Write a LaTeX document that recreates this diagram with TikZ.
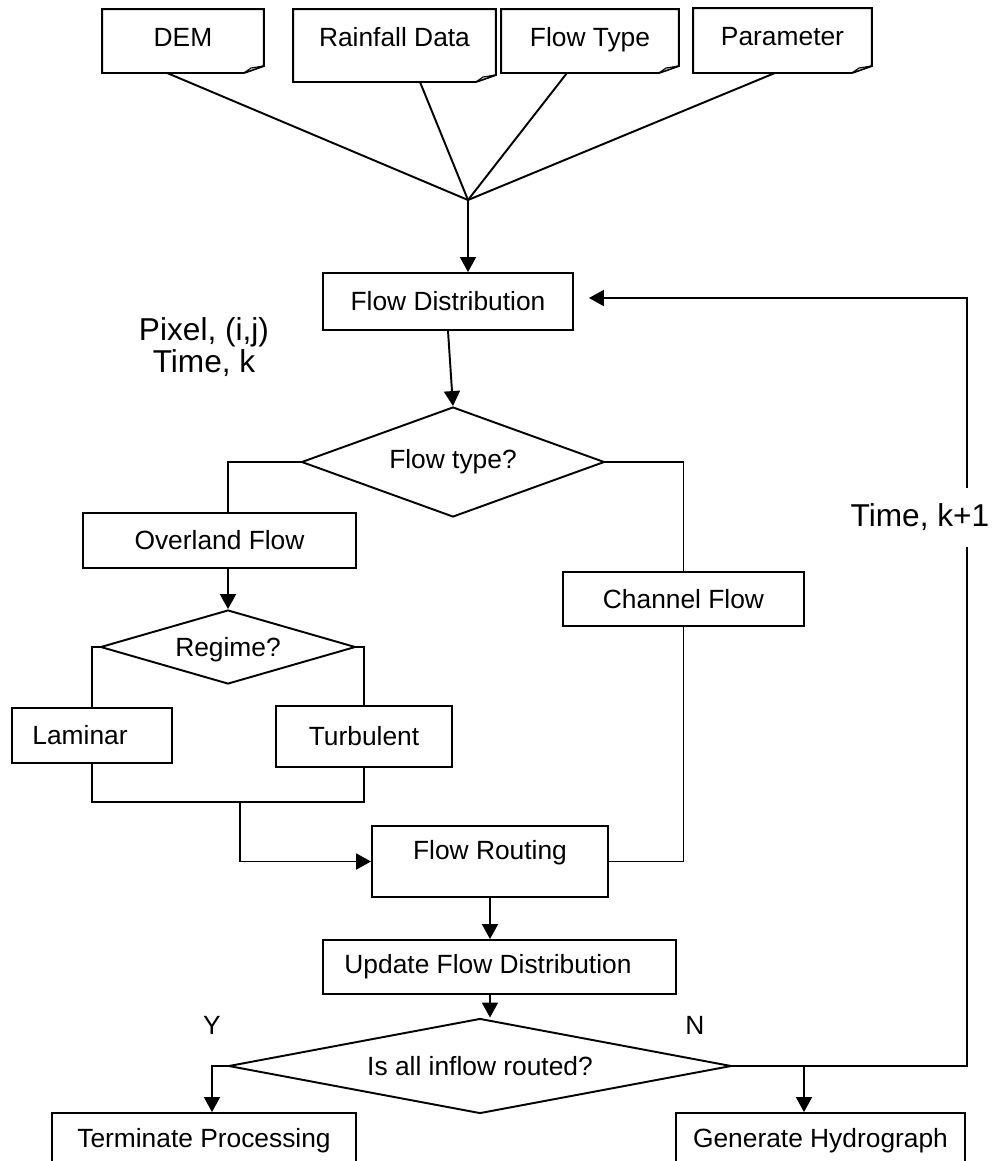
\documentclass[tikz,border=0pt]{standalone}
\usepackage{fontspec}
\setmainfont{Liberation Sans}
\usetikzlibrary{shapes.geometric,arrows.meta}

% outline of an input document, bottom right corner folded
\newcommand{\docfold}[1]{%
  \draw (#1.north west) -- (#1.north east) -- ([yshift=0.14cm]#1.south east)
    -- ([xshift=-0.4cm]#1.south east) -- (#1.south west) -- cycle;
  \filldraw[fill=gray!45, line join=bevel, line width=0.6pt] ([xshift=-0.4cm]#1.south east)
    -- ([xshift=-0.26cm,yshift=0.1cm]#1.south east) -- ([yshift=0.14cm]#1.south east) -- cycle;
}

\begin{document}
\begin{tikzpicture}[x=0.02cm, y=-0.02cm, line width=1.1pt,
    >={Triangle[length=0.3cm,width=0.32cm]},
    every node/.style={font=\fontsize{15}{18}\selectfont},
    box/.style={draw, rectangle, inner sep=0pt},
    doc/.style={rectangle, inner sep=0pt, text height=0.72cm},
    decision/.style={draw, diamond, inner sep=0pt},
    note/.style={font=\fontsize{18}{18}\selectfont, align=center}]
  \useasboundingbox (0,0) rectangle (995,1161);
  \clip (0,0) rectangle (995,1161);

  % Dữ liệu vào
  \node[doc, minimum width=3.2cm, text depth=0.52cm] (dem) at (183,41) {DEM};
  \node[doc, minimum width=4.02cm, text depth=0.7cm] (rain) at (394.5,45.5) {Rainfall Data};
  \node[doc, minimum width=3.52cm, text depth=0.52cm] (ftype) at (590,41) {Flow Type};
  \node[doc, minimum width=3.54cm, text depth=0.54cm] (param) at (782.5,40.5) {Parameter};
  \foreach \n in {dem,rain,ftype,param}
  {\docfold{\n}}

  \coordinate (hub) at (468,200);
  \foreach \n/\s in {dem/-0.32,rain/0.51,ftype/-0.46,param/-0.15}
  \draw ([xshift=\s cm]\n.south) -- (hub);

  \node[box, minimum width=5cm, minimum height=1.14cm] (fd) at (448,301.5) {Flow Distribution};
  \draw[->] (hub) -- (hub |- fd.north);
  \node[note] (pix) at (204,347) {Pixel, (i,j)\\Time, k};

  % Loại dòng chảy
  \node[decision, aspect=2.75, minimum width=6.06cm, minimum height=2.2cm] (ftq) at (453,462) {Flow type?};
  \draw[->] (fd.south) -- (ftq.north);

  \node[box, minimum width=5.46cm, minimum height=1.1cm] (ov) at (219.5,540.5) {Overland Flow};
  \node[decision, aspect=3.45, minimum width=5.1cm, minimum height=1.48cm, text depth=0.02cm] (reg) at (228,647) {Regime?};
  \draw (ftq.west) -| (reg.north |- ov.north);
  \draw[->] (reg.north |- ov.south) -- (reg.north);

  \node[box, minimum width=3.2cm, minimum height=1.1cm] (lam) at (92,735.5) {Laminar\kern0.48cm};
  \node[box, minimum width=3.52cm, minimum height=1.22cm] (tur) at (364,736.5) {Turbulent};
  \draw (reg.west) -| (lam.north);
  \draw (reg.east) -| (tur.north);

  \coordinate (mrg) at (240,802);
  \draw (lam.south) |- (mrg) -| (tur.south);

  \node[box, minimum width=4.72cm, minimum height=1.42cm, text depth=0.45cm] (fr) at (490,861.5) {Flow Routing};
  \draw[->] (mrg) |- (fr.west);

  \node[box, minimum width=4.82cm, minimum height=1.08cm] (ch) at (683.5,599) {Channel Flow};
  \draw (ftq.east) -| (ch.north);
  \draw (ch.south) |- (fr.east);

  \node[box, minimum width=7.06cm, minimum height=1.08cm] (up) at (499.5,967) {Update Flow Distribution\kern0.46cm};
  \draw[->] (fr.south) -- (fr.south |- up.north);

  % Kiểm tra
  \node[decision, aspect=5.3, minimum width=10.06cm, minimum height=1.9cm] (isdone) at (480,1066) {Is all inflow routed?};
  \draw[->] (up.south -| fr.south) -- (isdone.north -| fr.south);
  \node (yes) at (212,1025) {Y};
  \node (no) at (695,1025) {N};

  \node[box, minimum width=6.08cm, minimum height=1.1cm] (tp) at (204,1140.5) {Terminate Processing};
  \node[box, minimum width=5.78cm, minimum height=1.1cm] (gh) at (820.5,1140.5) {Generate Hydrograph};
  \draw[->] (isdone.west) -| ([xshift=0.16cm]tp.north);
  \draw[->] (isdone.east) -| ([xshift=-0.33cm]gh.north);

  % Quay lại bước thời gian sau
  \coordinate (lpb) at (967,1066);
  \coordinate (lpt) at (967,298);
  \draw[->] (isdone.east) -- (lpb) -- (lpt) -- ([xshift=0.3cm]fd.east |- lpt);
  \node[note, fill=white, inner sep=0pt, minimum height=1.18cm] (tk) at (920,517) {Time, k+1};
\end{tikzpicture}
\end{document}
